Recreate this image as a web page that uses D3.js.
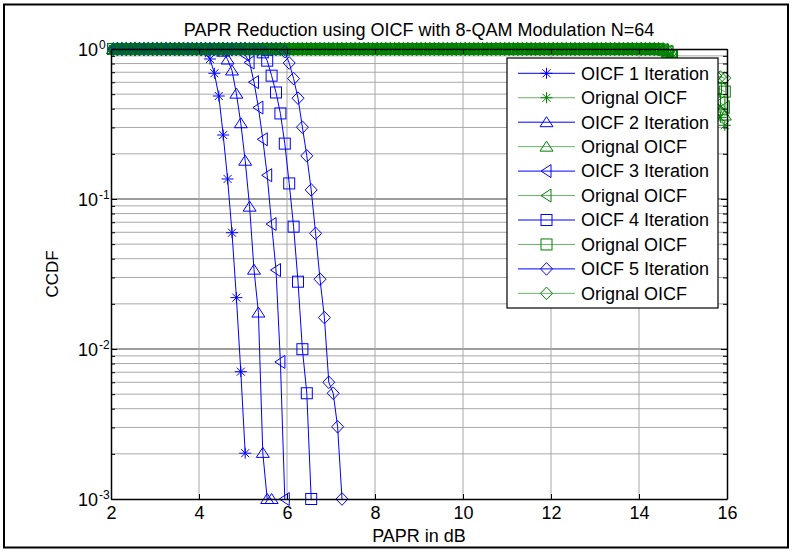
<!DOCTYPE html>
<html><head><meta charset="utf-8">
<script src="https://cdn.jsdelivr.net/npm/d3@7"></script>
<style>
html,body{margin:0;padding:0;background:#fff;}
svg{display:block;}
text{font-family:"Liberation Sans",Arial,Helvetica,sans-serif;fill:#000;}
</style></head><body>
<svg id="chart" width="793" height="552"></svg>
<script>
// ---------- DATA ----------
const paprGrid = [
2.05,2.15,2.25,2.35,2.45,2.55,2.65,2.75,2.85,2.95,
3.05,3.15,3.25,3.35,3.45,3.55,3.65,3.75,3.85,3.95,
4.05,4.15,4.25,4.35,4.45,4.55,4.65,4.75,4.85,4.95,
5.05,5.15,5.25,5.35,5.45,5.55,5.65,5.75,5.85,5.95,
6.05,6.15,6.25,6.35,6.45,6.55,6.65,6.75,6.85,6.95,
7.05,7.15,7.25,7.35,7.45,7.55,7.65,7.75,7.85,7.95,
8.05,8.15,8.25,8.35,8.45,8.55,8.65,8.75,8.85,8.95,
9.05,9.15,9.25,9.35,9.45,9.55,9.65,9.75,9.85,9.95,
10.05,10.15,10.25,10.35,10.45,10.55,10.65,10.75,10.85,10.95,
11.05,11.15,11.25,11.35,11.45,11.55,11.65,11.75,11.85,11.95,
12.05,12.15,12.25,12.35,12.45,12.55,12.65,12.75,12.85,12.95,
13.05,13.15,13.25,13.35,13.45,13.55,13.65,13.75,13.85,13.95,
14.05,14.15,14.25,14.35,14.45,14.55,14.65,14.75,14.85,14.95,
15.05,15.15,15.25,15.35,15.45,15.55,15.65,15.75,15.85,15.95];

const xTicks = [2,4,6,8,10,12,14,16];
const yTickExponents = [0,-1,-2,-3];

const seriesLabels = ["OICF 1 Iteration","Orignal OICF","OICF 2 Iteration","Orignal OICF",
  "OICF 3 Iteration","Orignal OICF","OICF 4 Iteration","Orignal OICF","OICF 5 Iteration","Orignal OICF"];
const markerTypes = ["star","triUp","triLeft","square","diamond"];

// CCDF after OICF iterations (aligned with paprGrid)
const oicf1 = [
1,1,1,1,1,1,1,1,1,1,
1,1,1,1,1,1,1,1,1,1,
1,0.96,0.858,0.689,0.486,0.267,0.136,0.0596,0.022,0.00706,0.00202];
const oicf2 = [
1,1,1,1,1,1,1,1,1,1,
1,1,1,1,1,1,1,1,1,1,
1,1,1,1,1,0.96,0.851,0.719,0.504,0.32,
0.18,0.0889,0.0338,0.0175,0.00203,0.001,0.001];
const oicf3 = [
1,1,1,1,1,1,1,1,1,1,
1,1,1,1,1,1,1,1,1,1,
1,1,1,1,1,1,1,1,1,1,
0.912,0.813,0.601,0.407,0.25,0.144,0.0681,0.0336,0.0082,0.001];
const oicf4 = [
1,1,1,1,1,1,1,1,1,1,
1,1,1,1,1,1,1,1,1,1,
1,1,1,1,1,1,1,1,1,1,
1,1,1,1,0.95,0.836,0.664,0.513,0.372,0.234,
0.127,0.0654,0.0281,0.00997,0.00507,0.001];
const oicf5 = [
1,1,1,1,1,1,1,1,1,1,
1,1,1,1,1,1,1,1,1,1,
1,1,1,1,1,1,1,1,1,1,
1,1,1,1,1,1,1,1,1,0.959,
0.807,0.635,0.47,0.301,0.194,0.115,0.059,0.0292,0.0162,0.006,
0.00507,0.00303,0.001];

// CCDF of original signal (aligned with paprGrid)
const orig1 = [
1,1,1,1,1,1,1,1,1,1, 1,1,1,1,1,1,1,1,1,1, 1,1,1,1,1,1,1,1,1,1, 1,1,1,1,1,1,1,1,1,1,
1,1,1,1,1,1,1,1,1,1, 1,1,1,1,1,1,1,1,1,1, 1,1,1,1,1,1,1,1,1,1, 1,1,1,1,1,1,1,1,1,1,
1,1,1,1,1,1,1,1,1,1, 1,1,1,1,1,1,1,1,1,1, 1,1,1,1,1,1,1,1,1,1, 1,1,1,1,1,1,1,1,1,1,
1,1,1,1,
0.995,0.98,0.95,0.87,0.77,0.7,0.64,0.59,0.55,0.51,0.47,0.44,0.41,0.38,0.35,0.31];
const orig2 = [
1,1,1,1,1,1,1,1,1,1, 1,1,1,1,1,1,1,1,1,1, 1,1,1,1,1,1,1,1,1,1, 1,1,1,1,1,1,1,1,1,1,
1,1,1,1,1,1,1,1,1,1, 1,1,1,1,1,1,1,1,1,1, 1,1,1,1,1,1,1,1,1,1, 1,1,1,1,1,1,1,1,1,1,
1,1,1,1,1,1,1,1,1,1, 1,1,1,1,1,1,1,1,1,1, 1,1,1,1,1,1,1,1,1,1, 1,1,1,1,1,1,1,1,1,1,
1,1,1,1,
0.995,0.985,0.95,0.88,0.78,0.72,0.67,0.62,0.58,0.54,0.51,0.48,0.45,0.42,0.39,0.36];
const orig3 = [
1,1,1,1,1,1,1,1,1,1, 1,1,1,1,1,1,1,1,1,1, 1,1,1,1,1,1,1,1,1,1, 1,1,1,1,1,1,1,1,1,1,
1,1,1,1,1,1,1,1,1,1, 1,1,1,1,1,1,1,1,1,1, 1,1,1,1,1,1,1,1,1,1, 1,1,1,1,1,1,1,1,1,1,
1,1,1,1,1,1,1,1,1,1, 1,1,1,1,1,1,1,1,1,1, 1,1,1,1,1,1,1,1,1,1, 1,1,1,1,1,1,1,1,1,1,
1,1,1,1,
0.997,0.985,0.96,0.89,0.78,0.73,0.69,0.65,0.61,0.57,0.54,0.51,0.48,0.46,0.44,0.41];
const orig4 = [
1,1,1,1,1,1,1,1,1,1, 1,1,1,1,1,1,1,1,1,1, 1,1,1,1,1,1,1,1,1,1, 1,1,1,1,1,1,1,1,1,1,
1,1,1,1,1,1,1,1,1,1, 1,1,1,1,1,1,1,1,1,1, 1,1,1,1,1,1,1,1,1,1, 1,1,1,1,1,1,1,1,1,1,
1,1,1,1,1,1,1,1,1,1, 1,1,1,1,1,1,1,1,1,1, 1,1,1,1,1,1,1,1,1,1, 1,1,1,1,1,1,1,1,1,1,
1,1,1,1,
0.997,0.99,0.96,0.9,0.79,0.75,0.72,0.69,0.66,0.63,0.61,0.59,0.57,0.55,0.54,0.52];
const orig5 = [
1,1,1,1,1,1,1,1,1,1, 1,1,1,1,1,1,1,1,1,1, 1,1,1,1,1,1,1,1,1,1, 1,1,1,1,1,1,1,1,1,1,
1,1,1,1,1,1,1,1,1,1, 1,1,1,1,1,1,1,1,1,1, 1,1,1,1,1,1,1,1,1,1, 1,1,1,1,1,1,1,1,1,1,
1,1,1,1,1,1,1,1,1,1, 1,1,1,1,1,1,1,1,1,1, 1,1,1,1,1,1,1,1,1,1, 1,1,1,1,1,1,1,1,1,1,
1,1,1,1,
0.998,0.99,0.97,0.9,0.79,0.77,0.75,0.73,0.72,0.7,0.69,0.68,0.67,0.66,0.65,0.64];

// ---------- DRAW ----------
(function(){
const svg = d3.select("#chart");
const BLUE = "#0000ff", GREEN = "#008000";
const L = 111, R = 727, T = 49, B = 499;
const x = d3.scaleLinear().domain([2,16]).range([L,R]);
const y = d3.scaleLog().domain([1e-3,1]).range([B,T]);

// figure border
svg.append("rect").attr("x",4).attr("y",4.5).attr("width",784).attr("height",543)
  .attr("fill","none").attr("stroke","#000").attr("stroke-width",2);

// grid
const isMajor = v => Math.abs(Math.log10(v) - Math.round(Math.log10(v))) < 1e-9;
const yAll = y.ticks();
const grid = svg.append("g");
grid.selectAll("line.h").data(yAll.filter(v => v > 1e-3 && v < 1)).enter().append("line")
  .attr("x1",L).attr("x2",R).attr("y1",d=>y(d)).attr("y2",d=>y(d))
  .attr("stroke",d=>isMajor(d)?"#3a3a3a":"#a8a8a8").attr("stroke-width",1);
grid.selectAll("line.v").data(xTicks.slice(1,-1)).enter().append("line")
  .attr("x1",d=>x(d)).attr("x2",d=>x(d)).attr("y1",T).attr("y2",B)
  .attr("stroke","#a8a8a8").attr("stroke-width",1);

// series
const series = [oicf1,orig1,oicf2,orig2,oicf3,orig3,oicf4,orig4,oicf5,orig5];
function drawMarker(g, type, cx, cy, color){
  const s = g.append("g").attr("transform",`translate(${cx},${cy})`)
    .attr("fill","none").attr("stroke",color).attr("stroke-width",1);
  if(type==="star"){
    s.append("path").attr("d","M-6,0H6M0,-5.5V5.5M-4,-4L4,4M-4,4L4,-4");
  } else if(type==="triUp"){
    s.append("path").attr("d","M0,-5.5L6.5,4.5L-6.5,4.5Z");
  } else if(type==="triLeft"){
    s.append("path").attr("d","M-5.5,0L4.5,-6.5L4.5,6.5Z");
  } else if(type==="square"){
    s.append("rect").attr("x",-5.5).attr("y",-5.5).attr("width",11).attr("height",11);
  } else if(type==="diamond"){
    s.append("path").attr("d","M0,-6.3L6,0L0,6.3L-6,0Z");
  }
}
const plot = svg.append("g");
const line = d3.line().x(d=>x(d[0])).y(d=>y(d[1]));
series.forEach((vals,k)=>{
  const color = k%2===0 ? BLUE : GREEN;
  const type = markerTypes[Math.floor(k/2)];
  const pts = vals.map((v,i)=>[paprGrid[i], v]);
  plot.append("path").datum(pts).attr("d",line).attr("fill","none")
    .attr("stroke",color).attr("stroke-width", k%2===0 ? 1 : 0.6);
  const mg = plot.append("g");
  pts.forEach(p=>drawMarker(mg, type, x(p[0]), y(p[1]), color));
});

// axes
const axG = svg.append("g");
const axBottom = axG.append("g").attr("transform",`translate(0,${B})`)
  .call(d3.axisBottom(x).tickValues(xTicks).tickSizeInner(-5).tickSizeOuter(0).tickPadding(7.5));
axG.append("g").attr("transform",`translate(0,${T})`)
  .call(d3.axisTop(x).tickValues(xTicks).tickSizeInner(-5).tickSizeOuter(0).tickFormat(""));
const axLeft = axG.append("g").attr("transform",`translate(${L},0)`)
  .call(d3.axisLeft(y).tickValues(yAll).tickSizeInner(-4).tickSizeOuter(0).tickFormat(""));
const axRight = axG.append("g").attr("transform",`translate(${R},0)`)
  .call(d3.axisRight(y).tickValues(yAll).tickSizeInner(-4).tickSizeOuter(0).tickFormat(""));
axLeft.selectAll(".tick line").attr("x2",d=>isMajor(d)?6:4);
axRight.selectAll(".tick line").attr("x2",d=>isMajor(d)?-6:-4);
axG.selectAll(".domain").attr("stroke","#000").attr("stroke-width",1.5);
axG.selectAll(".tick line").attr("stroke","#000");
axBottom.selectAll("text").attr("font-size","18px").attr("font-family","Liberation Sans, Arial, sans-serif").attr("fill","#000");

// y tick labels 10^e
const yl = svg.append("g");
yTickExponents.forEach(e=>{
  const yy = y(Math.pow(10,e));
  yl.append("text").attr("x",98).attr("y",yy+6.5).attr("text-anchor","end")
    .attr("font-size","18px").text("10");
  yl.append("text").attr("x",99).attr("y",yy-0.5).attr("text-anchor","start")
    .attr("font-size","12px").text(String(e));
});

// titles
svg.append("text").attr("x",(L+R)/2).attr("y",35.5).attr("text-anchor","middle")
  .attr("font-size","18px").text("PAPR Reduction using OICF with 8-QAM Modulation N=64");
svg.append("text").attr("x",(L+R)/2).attr("y",542).attr("text-anchor","middle")
  .attr("font-size","18px").text("PAPR in dB");
svg.append("text").attr("transform",`translate(58,${(T+B)/2}) rotate(-90)`).attr("text-anchor","middle")
  .attr("font-size","17px").text("CCDF");

// legend
const lg = svg.append("g");
lg.append("rect").attr("x",507).attr("y",58).attr("width",211).attr("height",250)
  .attr("fill","#fff").attr("stroke","#000").attr("stroke-width",1.2);
seriesLabels.forEach((name,i)=>{
  const ry = 73.3 + i*24.45;
  const color = i%2===0 ? BLUE : GREEN;
  lg.append("line").attr("x1",518).attr("x2",575).attr("y1",ry).attr("y2",ry)
    .attr("stroke",color).attr("stroke-width", i%2===0 ? 1 : 0.6);
  drawMarker(lg, markerTypes[Math.floor(i/2)], 546.5, ry, color);
  lg.append("text").attr("x",581).attr("y",ry+6.3).attr("font-size","18px").text(name);
});
})();
</script>
</body></html>
